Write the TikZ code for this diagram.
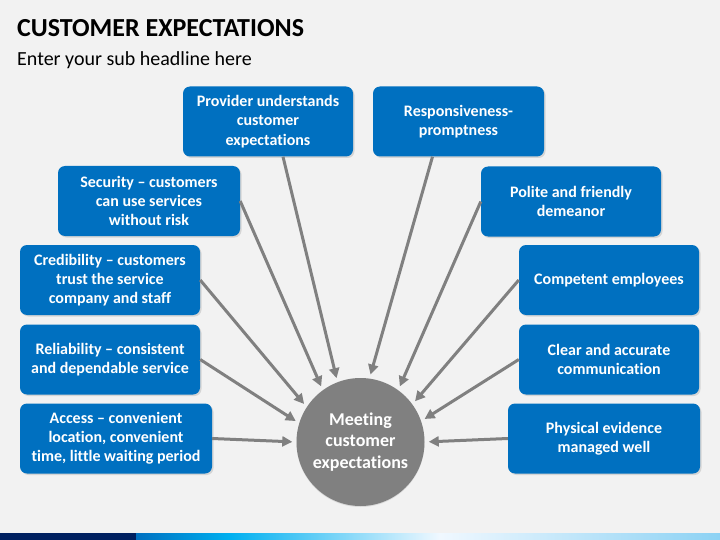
\documentclass[tikz,border=0pt]{standalone}
\usepackage{fontspec}
\setmainfont{Carlito}[Ligatures={TeX,NoCommon}]
\usepackage{tikz}
\usetikzlibrary{arrows.meta, calc, shadows}
\definecolor{CEBlue}{RGB}{0, 112, 192}
\definecolor{CEGray}{RGB}{128, 128, 128}
\definecolor{CEBack}{RGB}{242, 242, 242}
\definecolor{CENavy}{RGB}{0, 32, 96}
\definecolor{CECyan}{RGB}{0, 176, 240}
\definecolor{CELight}{RGB}{240, 248, 255}
\definecolor{CESky}{RGB}{140, 210, 244}

\begin{document}
\begin{tikzpicture}[x=1pt, y=-1pt,
    expbox/.style={rounded corners=7pt, fill=CEBlue, text=white, align=center, inner sep=0pt,
      minimum height=70pt, font=\fontsize{16}{19.2}\selectfont\bfseries,
      drop shadow={shadow xshift=1.5pt, shadow yshift=-1.5pt, opacity=0.25}},
    toarrow/.style={draw=CEGray, line width=3pt, -{Triangle[length=10pt, width=10pt]}, shorten >=4pt}]
    % slide background and bottom bar
    \fill[CEBack] (0,0) rectangle (720,540);
    \useasboundingbox (0,0) rectangle (720,540);
    \fill[CENavy] (0,533) rectangle (136,540);
    \shade[left color=CEBlue, right color=CECyan] (136,533) rectangle (230,540);
    \shade[left color=CECyan, right color=CELight] (230,533) rectangle (440,540);
    \shade[left color=CELight, right color=CESky] (440,533) rectangle (720,540);

    % headline
    \node[anchor=base west, inner sep=0pt, font=\fontsize{26}{30}\selectfont\bfseries] (title) at (17,37) {CUSTOMER EXPECTATIONS};
    \node[anchor=base west, inner sep=0pt, font=\fontsize{20}{24}\selectfont] (subtitle) at (17,66) {Enter your sub headline here};

    % expectation boxes
    \node[expbox, minimum width=170pt] (prov) at (268,121.5) {Provider understands\\customer\\expectations};
    \node[expbox, minimum width=171pt] (resp) at (458.5,121.5) {Responsiveness-\\promptness};
    \node[expbox, minimum width=182pt] (sec) at (149,201) {Security – customers\\can use services\\without risk};
    \node[expbox, minimum width=180pt] (pol) at (571,201.5) {Polite and friendly\\demeanor};
    \node[expbox, minimum width=180pt] (cred) at (110,280) {Credibility – customers\\trust the service\\company and staff};
    \node[expbox, minimum width=180pt] (comp) at (609,280) {Competent employees};
    \node[expbox, minimum width=180pt] (rel) at (110,359.5) {Reliability – consistent\\and dependable service};
    \node[expbox, minimum width=180pt] (clr) at (609,359.5) {Clear and accurate\\communication};
    \node[expbox, minimum width=192pt] (acc) at (116,438.5) {Access – convenient\\location, convenient\\time, little waiting period};
    \node[expbox, minimum width=192pt] (phy) at (604,438.5) {Physical evidence\\managed well};

    % central goal
    \node[circle, fill=CEGray, minimum size=128pt, inner sep=0pt, text=white, align=center,
          font=\fontsize{18}{21.5}\selectfont\bfseries,
          drop shadow={shadow xshift=0pt, shadow yshift=-1pt, opacity=0.2}] (goal) at (360.5,442) {Meeting\\customer\\expectations};

    % arrows into the goal
    \draw[toarrow] ($(prov.south)+(15,0)$) -- (goal.111);
    \draw[toarrow] ($(resp.south)+(-26,0)$) -- (goal.82);
    \draw[toarrow] (sec.east) -- (goal.126);
    \draw[toarrow] (pol.west) -- (goal.54);
    \draw[toarrow] (cred.east) -- (goal.147);
    \draw[toarrow] (comp.west) -- (goal.36);
    \draw[toarrow] (rel.east) -- (goal.163);
    \draw[toarrow] (clr.west) -- (goal.19);
    \draw[toarrow] (acc.east) -- (goal.180);
    \draw[toarrow] (phy.west) -- (goal.0);
  \end{tikzpicture}
\end{document}
